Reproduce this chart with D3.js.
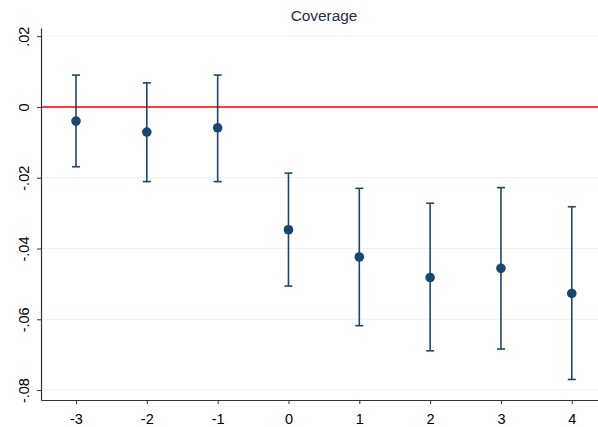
<!DOCTYPE html>
<html>
<head>
<meta charset="utf-8">
<script src="https://cdn.jsdelivr.net/npm/d3@7"></script>
<style>
  html, body { margin: 0; padding: 0; background: #fff; }
  svg { display: block; }
  text { font-family: "Liberation Sans", Arial, sans-serif; }
</style>
</head>
<body>
<svg id="chart" width="598" height="427"></svg>
<script>
// Event-time periods and estimated coefficients with 95% confidence bounds
const periods = [-3, -2, -1, 0, 1, 2, 3, 4];
const periodLabels = ["-3", "-2", "-1", "0", "1", "2", "3", "4"];
const estimates = [-0.0040, -0.0071, -0.0059, -0.0347, -0.0424, -0.0482, -0.0456, -0.0527];
const lowerCI = [-0.0169, -0.0211, -0.0211, -0.0506, -0.0618, -0.0689, -0.0684, -0.0770];
const upperCI = [0.0090, 0.0068, 0.0090, -0.0187, -0.0230, -0.0272, -0.0228, -0.0282];
const yTicks = [0.02, 0, -0.02, -0.04, -0.06, -0.08];
const yTickLabels = [".02", "0", "-.02", "-.04", "-.06", "-.08"];
const title = "Coverage";

const svg = d3.select("#chart");
const plotLeft = 41, plotRight = 598, plotTop = 28, plotBottom = 400;

const x = d3.scaleLinear().domain([-3.494, 4.37]).range([plotLeft, plotRight]);
const y = d3.scaleLinear().domain([-0.0828, 0.0223]).range([plotBottom, plotTop]);

const navy = "#1a476f";

// horizontal grid
svg.append("g").selectAll("line").data(yTicks).join("line")
  .attr("x1", plotLeft).attr("x2", plotRight)
  .attr("y1", d => y(d)).attr("y2", d => y(d))
  .attr("stroke", "#eaf2f3").attr("stroke-width", 1);

// reference line at zero
svg.append("line")
  .attr("x1", plotLeft).attr("x2", plotRight)
  .attr("y1", y(0)).attr("y2", y(0))
  .attr("stroke", "#ff3b3b").attr("stroke-width", 2);

// y axis
const yAxis = d3.axisLeft(y).tickValues(yTicks)
  .tickFormat((d, i) => yTickLabels[i]).tickSize(4).tickSizeOuter(0);
const gy = svg.append("g").attr("transform", `translate(${plotLeft},0)`).call(yAxis);
gy.select(".domain").attr("stroke", "#333").attr("stroke-width", 1.2);
gy.selectAll(".tick line").attr("stroke", "#333");
gy.selectAll(".tick text")
  .attr("font-size", 14.5).attr("fill", "#000")
  .attr("x", 0).attr("y", 0)
  .attr("dy", null)
  .attr("text-anchor", "middle")
  .attr("transform", "translate(-12.5,0) rotate(-90)");

// x axis
const xAxis = d3.axisBottom(x).tickValues(periods)
  .tickFormat((d, i) => periodLabels[i]).tickSize(4).tickSizeOuter(0);
const gx = svg.append("g").attr("transform", `translate(0,${plotBottom})`).call(xAxis);
gx.select(".domain").attr("stroke", "#333").attr("stroke-width", 1.2);
gx.selectAll(".tick line").attr("stroke", "#333");
gx.selectAll(".tick text").attr("font-size", 14.5).attr("fill", "#000").attr("y", 14).attr("dy", "0.71em");

// confidence intervals
const data = periods.map((p, i) => ({ p, est: estimates[i], lo: lowerCI[i], hi: upperCI[i] }));
const ci = svg.append("g").attr("stroke", navy).attr("stroke-width", 1.6);
ci.selectAll("line.bar").data(data).join("line").attr("class", "bar")
  .attr("x1", d => x(d.p)).attr("x2", d => x(d.p))
  .attr("y1", d => y(d.lo)).attr("y2", d => y(d.hi));
ci.selectAll("line.capHi").data(data).join("line").attr("class", "capHi")
  .attr("x1", d => x(d.p) - 4).attr("x2", d => x(d.p) + 4)
  .attr("y1", d => y(d.hi)).attr("y2", d => y(d.hi));
ci.selectAll("line.capLo").data(data).join("line").attr("class", "capLo")
  .attr("x1", d => x(d.p) - 4).attr("x2", d => x(d.p) + 4)
  .attr("y1", d => y(d.lo)).attr("y2", d => y(d.lo));

// point estimates
svg.append("g").selectAll("circle").data(data).join("circle")
  .attr("cx", d => x(d.p)).attr("cy", d => y(d.est))
  .attr("r", 4.8).attr("fill", navy);

// title
svg.append("text")
  .attr("x", 324).attr("y", 21)
  .attr("text-anchor", "middle")
  .attr("font-size", 15.4).attr("fill", "#1e2d4f")
  .text(title);
</script>
</body>
</html>
